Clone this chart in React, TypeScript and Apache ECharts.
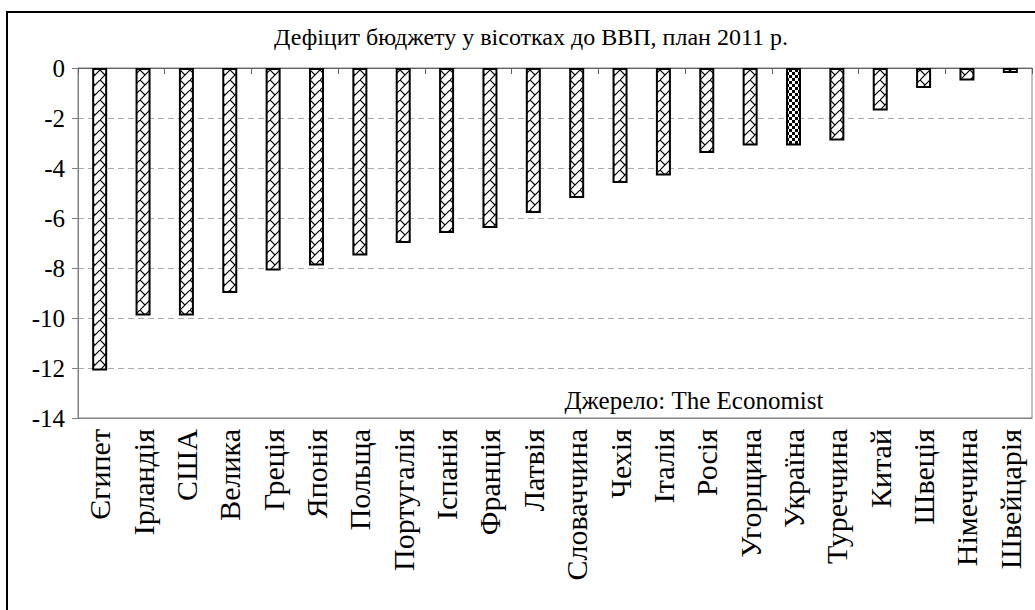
import React, { useEffect, useRef } from "react";
import * as echarts from "echarts";

const categories = [
  "Єгипет", "Ірландія", "США", "Велика", "Греція", "Японія", "Польща",
  "Португалія", "Іспанія", "Франція", "Латвія", "Словаччина", "Чехія",
  "Італія", "Росія", "Угорщина", "Україна", "Туреччина", "Китай",
  "Швеція", "Німеччина", "Швейцарія",
];
const deficit = [
  -12.1, -9.9, -9.9, -9.0, -8.1, -7.9, -7.5, -7.0, -6.6, -6.4, -5.8, -5.2,
  -4.6, -4.3, -3.4, -3.1, -3.1, -2.9, -1.7, -0.8, -0.5, -0.2,
];
const highlight = "Україна";
const titleText = "Дефіцит бюджету у вісотках до ВВП, план 2011 р.";
const sourceText = "Джерело: The Economist";

const FONT = "Liberation Serif";

function hatchCanvas() {
  const c = document.createElement("canvas");
  c.width = 10;
  c.height = 10;
  const ctx = c.getContext("2d")!;
  ctx.fillStyle = "#fff";
  ctx.fillRect(0, 0, 10, 10);
  ctx.strokeStyle = "#000";
  ctx.lineWidth = 1.2;
  ctx.beginPath();
  ctx.moveTo(0, 10);
  ctx.lineTo(10, 0);
  ctx.moveTo(0, 0);
  ctx.lineTo(5, 5);
  ctx.stroke();
  return c;
}

function checkerCanvas() {
  const c = document.createElement("canvas");
  c.width = 6;
  c.height = 6;
  const ctx = c.getContext("2d")!;
  ctx.fillStyle = "#fff";
  ctx.fillRect(0, 0, 6, 6);
  ctx.fillStyle = "#000";
  ctx.fillRect(0, 0, 3, 3);
  ctx.fillRect(3, 3, 3, 3);
  return c;
}

export default function App() {
  const ref = useRef<HTMLDivElement>(null);
  useEffect(() => {
    if (!ref.current) return;
    const chart = echarts.init(ref.current, undefined, { renderer: "svg" });
    const hatch = { image: hatchCanvas(), repeat: "repeat" };
    const checker = { image: checkerCanvas(), repeat: "repeat" };
    chart.setOption({
      animation: false,
      backgroundColor: "#fff",
      textStyle: { fontFamily: FONT },
      grid: {
        left: 78,
        right: 3,
        top: 68,
        bottom: 192,
        containLabel: false,
        show: true,
        borderColor: "#808080",
        borderWidth: 1,
      },
      xAxis: [
        {
          type: "category",
          data: categories,
          position: "bottom",
          axisLine: { onZero: false, lineStyle: { color: "#808080" } },
          axisTick: { show: false },
          axisLabel: {
            rotate: 90,
            interval: 0,
            fontSize: 30,
            fontFamily: FONT,
            color: "#000",
            margin: 11,
          },
        },
        {
          type: "category",
          data: categories,
          position: "top",
          axisLine: { onZero: false, lineStyle: { color: "#606060" } },
          axisTick: { show: true, inside: true, length: 6, lineStyle: { color: "#606060" } },
          axisLabel: { show: false },
        },
      ],
      yAxis: {
        type: "value",
        min: -14,
        max: 0,
        interval: 2,
        axisLine: { show: true, lineStyle: { color: "#808080" } },
        axisTick: { show: true, length: 6, lineStyle: { color: "#808080" } },
        axisLabel: { fontSize: 25, fontFamily: FONT, color: "#000", margin: 13 },
        splitLine: { show: true, lineStyle: { color: "#aaa", type: [6, 4] } },
      },
      series: [
        {
          type: "bar",
          xAxisIndex: 0,
          barWidth: 15,
          data: deficit.map((v, i) => ({
            value: v,
            itemStyle: { color: categories[i] === highlight ? checker : hatch },
          })),
          itemStyle: { borderColor: "#000", borderWidth: 2 },
        },
      ],
      graphic: [
        {
          type: "rect",
          silent: true,
          z: -1,
          shape: { x: 7, y: 12, width: 1040, height: 620 },
          style: { fill: "none", stroke: "#000", lineWidth: 2 },
        },
        {
          type: "text",
          x: 531,
          y: 37,
          style: {
            text: titleText,
            font: "24px 'Liberation Serif', serif",
            fill: "#000",
            align: "center",
            verticalAlign: "middle",
          },
        },
        {
          type: "text",
          x: 694,
          y: 400,
          style: {
            text: sourceText,
            font: "25px 'Liberation Serif', serif",
            fill: "#000",
            align: "center",
            verticalAlign: "middle",
          },
        },
      ],
    });
    return () => chart.dispose();
  }, []);
  return (
    <div
      ref={ref}
      style={{ position: "fixed", left: 0, top: 0, width: 1035, height: 610 }}
    />
  );
}
